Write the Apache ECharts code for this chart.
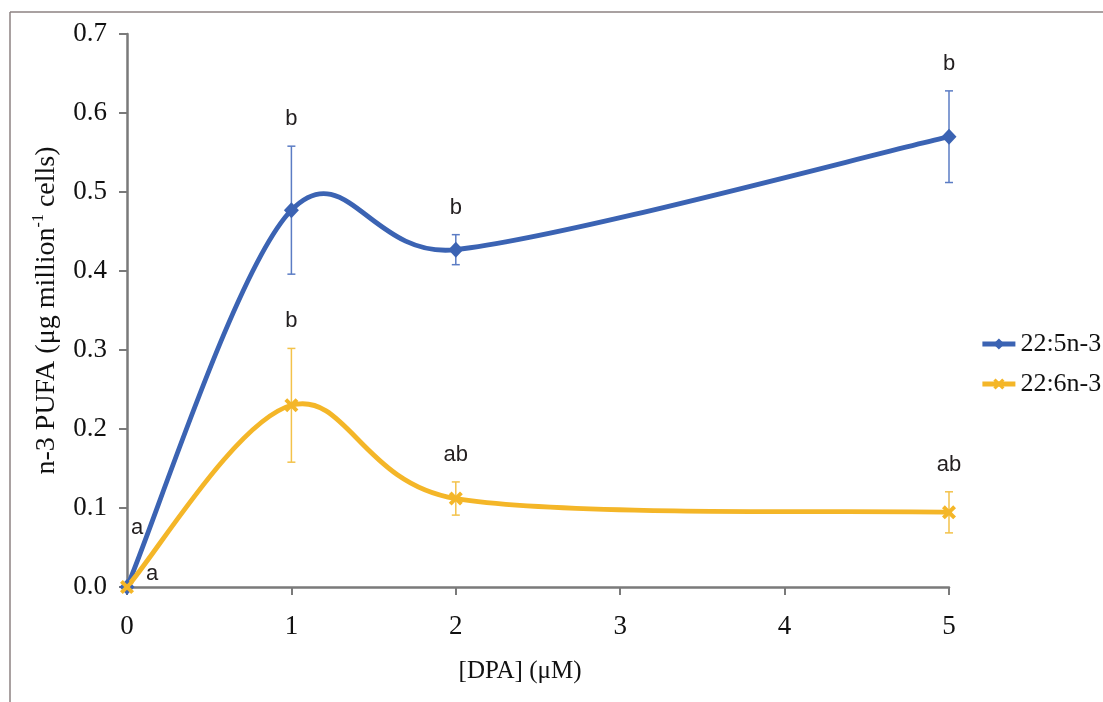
<!DOCTYPE html>
<html>
<head>
<meta charset="utf-8">
<script src="https://cdn.jsdelivr.net/npm/echarts@6/dist/echarts.min.js"></script>
<style>
html,body{margin:0;padding:0;background:#fff;}
#chart{width:1103px;height:702px;}
</style>
</head>
<body>
<div id="chart"></div>
<script>
// ---- data ----
var doseValues = [0, 1, 2, 5];
var xTickValues = [0, 1, 2, 3, 4, 5];
var dpa225 = [0, 0.477, 0.427, 0.570];
var dpa225Err = [0, 0.081, 0.019, 0.058];
var dha226 = [0, 0.230, 0.112, 0.0945];
var dha226Err = [0, 0.072, 0.021, 0.026];
var letters225 = ['a', 'b', 'b', 'b'];
var letters226 = ['a', 'b', 'ab', 'ab'];
var seriesNames = ['22:5n-3', '22:6n-3'];

var BLUE = '#3b63b3';
var YELLOW = '#f4b628';
var SERIF = '"Liberation Serif","Times New Roman",serif';
var SANS = '"Liberation Sans",Arial,sans-serif';
var LINE_W = 4.8;

// markers (and legend entry) only; the curve itself is drawn by curveSeries
function markerSeries(name, ys, color, symbol, size) {
  return {
    type: 'line',
    name: name,
    data: doseValues.map(function (x, i) { return [x, ys[i]]; }),
    symbol: symbol,
    symbolSize: size,
    showAllSymbol: true,
    lineStyle: { color: 'rgba(0,0,0,0)', width: LINE_W },
    itemStyle: { color: color },
    z: 4
  };
}

// Excel-like smoothed line: cubic Bezier segments with control arms (next-prev)/6,
// limited to half the segment length, computed in pixel space via api.coord
function curveSeries(ys, color) {
  var pts = doseValues.map(function (x, i) { return [x, ys[i]]; });
  return {
    type: 'custom',
    silent: true,
    data: pts.map(function (p, i) { return [p[0], p[1], i]; }),
    renderItem: function (params, api) {
      var i = api.value(2);
      var n = pts.length;
      if (i >= n - 1) return null;
      var P = function (k) { k = Math.max(0, Math.min(n - 1, k)); return api.coord(pts[k]); };
      var p0 = P(i - 1), p1 = P(i), p2 = P(i + 1), p3 = P(i + 2);
      var d = function (a, b) { return Math.hypot(a[0] - b[0], a[1] - b[1]); };
      var seg = d(p1, p2);
      var d02 = d(p0, p2), d13 = d(p1, p3);
      var f = 1 / 6, g = 1 / 6;
      if (d02 / 6 > seg / 2) f = seg / (2 * d02);
      if (d13 / 6 > seg / 2) g = seg / (2 * d13);
      var c1 = [p1[0] + (p2[0] - p0[0]) * f, p1[1] + (p2[1] - p0[1]) * f];
      var c2 = [p2[0] - (p3[0] - p1[0]) * g, p2[1] - (p3[1] - p1[1]) * g];
      return {
        type: 'bezierCurve',
        shape: { x1: p1[0], y1: p1[1], x2: p2[0], y2: p2[1], cpx1: c1[0], cpy1: c1[1], cpx2: c2[0], cpy2: c2[1] },
        style: { stroke: color, lineWidth: LINE_W, fill: 'none', lineCap: 'round' }
      };
    },
    z: 3
  };
}

function errSeries(ys, errs, color) {
  return {
    type: 'custom',
    silent: true,
    data: doseValues.map(function (x, i) { return [x, ys[i] - errs[i], ys[i] + errs[i]]; }),
    renderItem: function (params, api) {
      var x = api.value(0);
      var lo = api.coord([x, api.value(1)]);
      var hi = api.coord([x, api.value(2)]);
      if (Math.abs(lo[1] - hi[1]) < 0.5) return null;
      var w = 4;
      var st = { stroke: color, lineWidth: 1.5 };
      return {
        type: 'group',
        children: [
          { type: 'line', shape: { x1: lo[0], y1: lo[1], x2: hi[0], y2: hi[1] }, style: st },
          { type: 'line', shape: { x1: lo[0] - w, y1: lo[1], x2: lo[0] + w, y2: lo[1] }, style: st },
          { type: 'line', shape: { x1: hi[0] - w, y1: hi[1], x2: hi[0] + w, y2: hi[1] }, style: st }
        ]
      };
    },
    z: 2
  };
}

// letters drawn above error bar top; baseline (zero) point gets its own offset
function letterSeries(ys, errs, letters, baseOffset) {
  return {
    type: 'custom',
    silent: true,
    data: doseValues.map(function (x, i) { return [x, ys[i] + errs[i], i]; }),
    renderItem: function (params, api) {
      var x = api.value(0);
      var i = api.value(2);
      var p = api.coord([x, api.value(1)]);
      var dx = 0, dy = -27;
      if (errs[i] === 0) { dx = baseOffset[0]; dy = baseOffset[1]; }
      return {
        type: 'text',
        x: p[0] + dx,
        y: p[1] + dy,
        style: {
          text: letters[i],
          fill: '#231f20',
          font: '22px ' + SANS,
          align: 'center',
          verticalAlign: 'middle'
        }
      };
    },
    z: 5
  };
}

var xSymbol = 'path://M2,0 L5,3 L8,0 L10,2 L7,5 L10,8 L8,10 L5,7 L2,10 L0,8 L3,5 L0,2 Z';

var chart = echarts.init(document.getElementById('chart'), null, { renderer: 'canvas' });
var option = {
  backgroundColor: '#ffffff',
  animation: false,
  graphic: [
    { type: 'line', shape: { x1: 10, y1: 12, x2: 1103, y2: 12 }, style: { stroke: '#8c8282', lineWidth: 1.5 } },
    { type: 'line', shape: { x1: 10, y1: 12, x2: 10, y2: 702 }, style: { stroke: '#8c8282', lineWidth: 1.5 } }
  ],
  grid: { left: 127, right: 154, top: 34, bottom: 115, containLabel: false },
  legend: {
    data: [
      { name: seriesNames[0], lineStyle: { color: BLUE, width: LINE_W } },
      { name: seriesNames[1], lineStyle: { color: YELLOW, width: LINE_W } }
    ],
    orient: 'vertical',
    left: 975,
    top: 326,
    itemWidth: 33,
    itemHeight: 14,
    itemGap: 14,
    textStyle: { fontFamily: SERIF, fontSize: 26, color: '#111' }
  },
  xAxis: {
    type: 'value',
    min: xTickValues[0],
    max: xTickValues[xTickValues.length - 1],
    interval: 1,
    name: '[DPA] (\u03bcM)',
    nameLocation: 'middle',
    nameGap: 72,
    nameTextStyle: { fontFamily: SERIF, fontSize: 25, color: '#111', padding: [0, 36, 0, 0] },
    axisLine: { show: true, onZero: false, lineStyle: { color: '#7a7a7a', width: 2.5 } },
    axisTick: { show: true, inside: false, length: 8, lineStyle: { color: '#7a7a7a', width: 2 } },
    axisLabel: { fontFamily: SERIF, fontSize: 27, color: '#111', margin: 26 },
    splitLine: { show: false }
  },
  yAxis: {
    type: 'value',
    min: 0,
    max: 0.7,
    interval: 0.1,
    name: '{n|n-3 PUFA (\u03bcg million}{s|-1}{n| cells)}',
    nameLocation: 'middle',
    nameGap: 64,
    nameRotate: 90,
    nameTextStyle: {
      rich: {
        n: { fontFamily: SERIF, fontSize: 28, color: '#111', lineHeight: 32 },
        s: { fontFamily: SERIF, fontSize: 16, color: '#111', lineHeight: 17, verticalAlign: 'top' }
      }
    },
    axisLine: { show: true, lineStyle: { color: '#7a7a7a', width: 2.5 } },
    axisTick: { show: true, inside: false, length: 8, lineStyle: { color: '#7a7a7a', width: 2 } },
    axisLabel: {
      fontFamily: SERIF, fontSize: 27, color: '#111', margin: 20,
      formatter: function (v) { return v.toFixed(1); }
    },
    splitLine: { show: false }
  },
  series: [
    errSeries(dpa225, dpa225Err, '#5b7cc4'),
    errSeries(dha226, dha226Err, '#f3c24a'),
    curveSeries(dpa225, BLUE),
    curveSeries(dha226, YELLOW),
    markerSeries(seriesNames[0], dpa225, BLUE, 'diamond', [15, 16]),
    markerSeries(seriesNames[1], dha226, YELLOW, xSymbol, 14),
    letterSeries(dpa225, dpa225Err, letters225, [10, -59]),
    letterSeries(dha226, dha226Err, letters226, [25, -13])
  ]
};
chart.setOption(option);
</script>
</body>
</html>
